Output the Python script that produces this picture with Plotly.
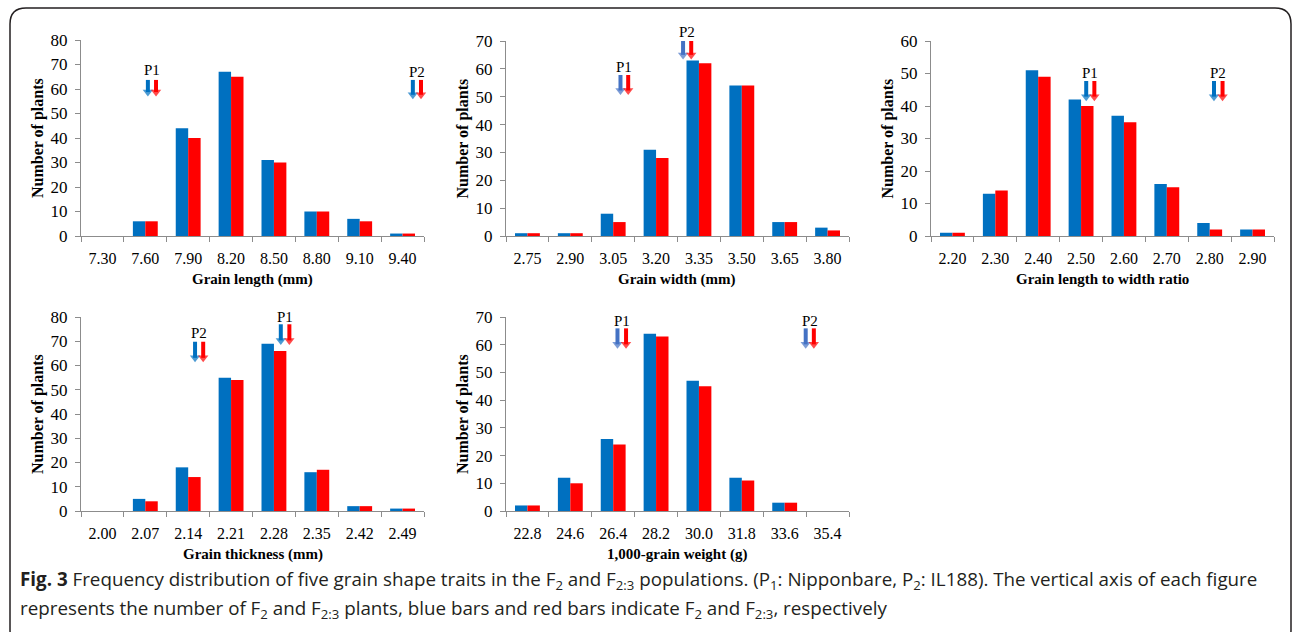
import plotly.graph_objects as go

W, H = 1295, 632

# ---------------- data ----------------
length_cats = ["7.30", "7.60", "7.90", "8.20", "8.50", "8.80", "9.10", "9.40"]
length_f2 = [0, 6, 44, 67, 31, 10, 7, 1]
length_f23 = [0, 6, 40, 65, 30, 10, 6, 1]

width_cats = ["2.75", "2.90", "3.05", "3.20", "3.35", "3.50", "3.65", "3.80"]
width_f2 = [1, 1, 8, 31, 63, 54, 5, 3]
width_f23 = [1, 1, 5, 28, 62, 54, 5, 2]

ratio_cats = ["2.20", "2.30", "2.40", "2.50", "2.60", "2.70", "2.80", "2.90"]
ratio_f2 = [1, 13, 51, 42, 37, 16, 4, 2]
ratio_f23 = [1, 14, 49, 40, 35, 15, 2, 2]

thick_cats = ["2.00", "2.07", "2.14", "2.21", "2.28", "2.35", "2.42", "2.49"]
thick_f2 = [0, 5, 18, 55, 69, 16, 2, 1]
thick_f23 = [0, 4, 14, 54, 66, 17, 2, 1]

weight_cats = ["22.8", "24.6", "26.4", "28.2", "30.0", "31.8", "33.6", "35.4"]
weight_f2 = [2, 12, 26, 64, 47, 12, 3, 0]
weight_f23 = [2, 10, 24, 63, 45, 11, 3, 0]

x_titles = ["Grain length (mm)", "Grain width (mm)", "Grain length to width ratio",
            "Grain thickness (mm)", "1,000-grain weight (g)"]
y_max = [80, 70, 60, 80, 70]

# parent markers (positions in category-index units):
# (label, blue x, red x, arrow tip value, arrow tail value, label value)
parents = [
    [("P1", 1.06, 1.25, 56.9, 63.7, 67.8), ("P2", 7.24, 7.43, 55.8, 63.7, 66.9)],
    [("P1", 2.17, 2.35, 50.6, 57.8, 60.7), ("P2", 3.63, 3.82, 63.4, 70.7, 73.2)],
    [("P1", 3.12, 3.31, 41.5, 47.7, 50.2), ("P2", 6.10, 6.30, 41.5, 47.7, 50.2)],
    [("P2", 2.16, 2.35, 61.3, 69.8, 73.4), ("P1", 4.16, 4.36, 68.5, 77.0, 80.0)],
    [("P1", 2.10, 2.30, 58.5, 65.9, 68.7), ("P2", 6.49, 6.68, 58.5, 65.9, 68.7)],
]

panels = [
    (length_cats, length_f2, length_f23),
    (width_cats, width_f2, width_f23),
    (ratio_cats, ratio_f2, ratio_f23),
    (thick_cats, thick_f2, thick_f23),
    (weight_cats, weight_f2, weight_f23),
]

# ---------------- layout geometry (pixels) ----------------
boxes = [  # x0, x1, ytop, ybottom
    (81, 424, 40, 236),
    (506, 849, 41, 236),
    (931, 1274, 41, 236),
    (81, 424, 317, 511),
    (506, 849, 317, 511),
]
ytitle_x = [38, 463, 888, 38, 463]
arrow_blue = ["#0070C0", "#4472C4", "#0070C0", "#0070C0", "#4472C4"]

BLUE = "#0070C0"
RED = "#FF0000"
AXIS = "#8C8C8C"
SERIF = "Liberation Serif, Times New Roman, serif"
HEAD = 9  # arrow head marker size (px)


def px(x):
    return x / W


def py(y):
    return 1 - y / H


fig = go.Figure()
annotations = []

for i, (cats, f2, f23) in enumerate(panels):
    n = "" if i == 0 else str(i + 1)
    xa, ya = "x" + n, "y" + n
    idx = list(range(len(cats)))
    fig.add_trace(go.Bar(x=idx, y=f2, name="F2", marker_color=BLUE,
                         xaxis=xa, yaxis=ya, showlegend=False, hoverinfo="skip"))
    fig.add_trace(go.Bar(x=idx, y=f23, name="F2:3", marker_color=RED,
                         xaxis=xa, yaxis=ya, showlegend=False, hoverinfo="skip"))
    x0, x1, yt, yb = boxes[i]
    scale = (yb - yt) / y_max[i]  # px per unit
    fig.layout["xaxis" + n] = dict(
        domain=[px(x0), px(x1)], anchor=ya, type="linear", automargin=False,
        range=[-0.5, len(cats) - 0.5], showline=True, linecolor=AXIS, linewidth=1,
        tickmode="array", tickvals=idx, ticktext=cats, ticks="",
        minor=dict(tickmode="array", tickvals=[k - 0.5 for k in range(len(cats) + 1)],
                   ticks="outside", ticklen=5, tickcolor=AXIS, showgrid=False),
        ticklabelstandoff=8,
        tickfont=dict(family=SERIF, size=16, color="#000"), showgrid=False,
        zeroline=False, fixedrange=True,
    )
    fig.layout["yaxis" + n] = dict(
        domain=[py(yb), py(yt)], anchor=xa, range=[0, y_max[i]], dtick=10,
        automargin=False, ticklabelstandoff=4,
        showline=True, linecolor=AXIS, linewidth=1, ticks="outside", ticklen=5,
        tickcolor=AXIS, tickfont=dict(family=SERIF, size=17, color="#000"),
        showgrid=False, zeroline=False, fixedrange=True,
    )
    # axis titles
    annotations.append(dict(
        text="<b>Number of plants</b>", textangle=-90, xref="paper", yref="paper",
        x=px(ytitle_x[i]), y=py((yt + yb) / 2), showarrow=False,
        xanchor="center", yanchor="middle",
        font=dict(family=SERIF, size=16, color="#000")))
    annotations.append(dict(
        text="<b>" + x_titles[i] + "</b>", xref="paper", yref="paper",
        x=px((x0 + x1) / 2), y=py(yb + 43), showarrow=False,
        xanchor="center", yanchor="middle",
        font=dict(family=SERIF, size=15, color="#000")))
    # parent arrows (shaft line + triangle head) as scatter traces
    for k, col in ((1, arrow_blue[i]), (2, RED)):
        xs, ys, sizes = [], [], []
        for p in parents[i]:
            xx, tip, tail = p[k], p[3], p[4]
            head_c = tip + (HEAD / 2) / scale
            xs += [xx, xx, None]
            ys += [tail, head_c, None]
            sizes += [0, HEAD, 0]
        fig.add_trace(go.Scatter(
            x=xs, y=ys, mode="lines+markers", xaxis=xa, yaxis=ya,
            line=dict(color=col, width=4),
            marker=dict(symbol="triangle-down", size=sizes, color=col,
                        line=dict(width=0)),
            cliponaxis=False, showlegend=False, hoverinfo="skip"))
    for (lab, xb, xr, tip, tail, labv) in parents[i]:
        lab_y = py(yb) + labv / y_max[i] * (py(yt) - py(yb))
        annotations.append(dict(
            xref=xa, yref="paper", x=(xb + xr) / 2, y=lab_y, text=lab, showarrow=False,
            xanchor="center", yanchor="middle",
            font=dict(family=SERIF, size=15, color="#000")))

# caption
CAP_FONT = dict(family="Open Sans, Noto Sans, sans-serif", size=18.8, color="#231F20")
annotations.append(dict(
    text="<b>Fig. 3</b> Frequency distribution of five grain shape traits in the "
         "F<sub>2</sub> and F<sub>2:3</sub> populations. (P<sub>1</sub>: Nipponbare, "
         "P<sub>2</sub>: IL188). The vertical axis of each figure",
    xref="paper", yref="paper", x=px(18), y=py(580), xanchor="left", yanchor="middle",
    showarrow=False, align="left", font=CAP_FONT))
annotations.append(dict(
    text="represents the number of F<sub>2</sub> and F<sub>2:3</sub> plants, blue bars "
         "and red bars indicate F<sub>2</sub> and F<sub>2:3</sub>, respectively",
    xref="paper", yref="paper", x=px(18), y=py(609), xanchor="left", yanchor="middle",
    showarrow=False, align="left", font=CAP_FONT))

# rounded frame
r = 16
L, T, R, B = 10, 8, 1291, 646
path = (f"M {px(L)},{py(B - r)} L {px(L)},{py(T + r)} "
        f"Q {px(L)},{py(T)} {px(L + r)},{py(T)} L {px(R - r)},{py(T)} "
        f"Q {px(R)},{py(T)} {px(R)},{py(T + r)} L {px(R)},{py(B - r)} "
        f"Q {px(R)},{py(B)} {px(R - r)},{py(B)} L {px(L + r)},{py(B)} "
        f"Q {px(L)},{py(B)} {px(L)},{py(B - r)} Z")
fig.add_shape(type="path", xref="paper", yref="paper", path=path,
              line=dict(color="#231F20", width=1.5), fillcolor="rgba(0,0,0,0)",
              layer="above")

fig.update_layout(
    template="none",
    width=W, height=H, margin=dict(l=0, r=0, t=0, b=0, pad=0), autosize=False,
    paper_bgcolor="white", plot_bgcolor="white",
    barmode="group", bargap=0.42, bargroupgap=0, showlegend=False,
    annotations=annotations,
)

fig.write_html("out.html", config={"displayModeBar": False},
               post_script="document.body.style.margin='0';"
                           "document.body.style.overflow='hidden';")
